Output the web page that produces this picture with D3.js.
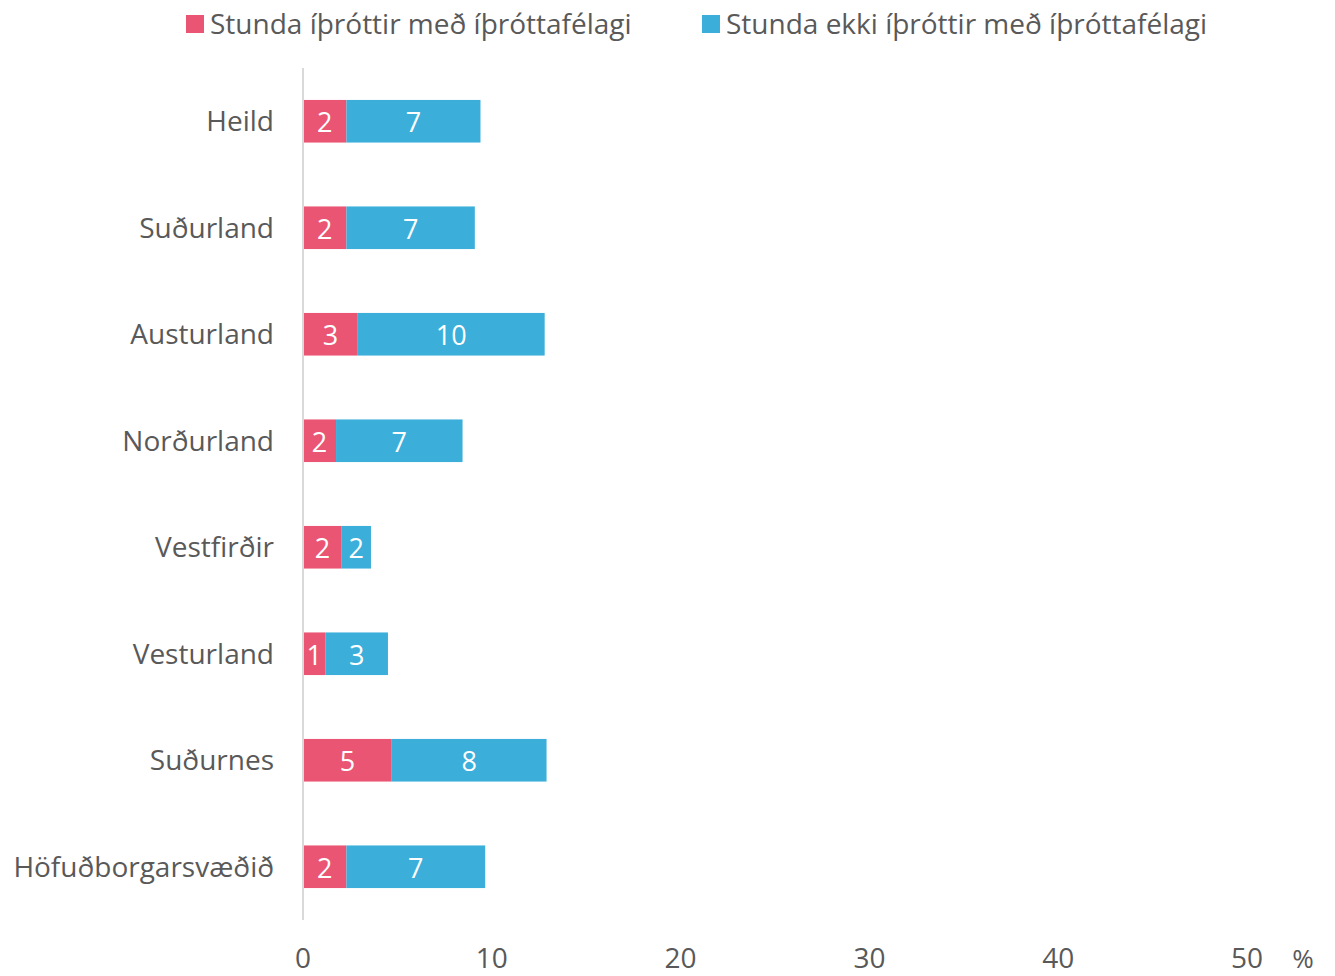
<!DOCTYPE html>
<html>
<head>
<meta charset="utf-8">
<script src="https://cdn.jsdelivr.net/npm/d3@7"></script>
<style>
body{margin:0;background:#fff;}
text{font-family:"Open Sans","Noto Sans",sans-serif;}
</style>
</head>
<body>
<script>
var regions=["Heild","Suðurland","Austurland","Norðurland","Vestfirðir","Vesturland","Suðurnes","Höfuðborgarsvæðið"]
var stunda=[2.3,2.3,2.9,1.75,2.05,1.2,4.7,2.3]
var stundaEkki=[7.1,6.8,9.9,6.7,1.55,3.3,8.2,7.35]
var ticks=[0,10,20,30,40,50]
var seriesNames=["Stunda íþróttir með íþróttafélagi","Stunda ekki íþróttir með íþróttafélagi"]
var colors=["#EA5573","#3BAEDA"]
var screen={width:1335,height:976};

var svg=d3.select("body")
          .append("svg")
          .attr("width",screen.width)
          .attr("height",screen.height)

var x=d3.scaleLinear().domain([0,50]).range([303,1247])
var y=d3.scaleBand().domain(regions).range([68,920]).paddingInner(0.6).paddingOuter(0.3)

var rows=regions.map(function(d,i){
  return {name:d,a:stunda[i],b:stundaEkki[i]};
})

// bars
var g=svg.selectAll("g.row")
         .data(rows)
         .enter()
         .append("g")
         .attr("class","row")
g.append("rect")
 .attr("x",function(d){return x(0)})
 .attr("y",function(d){return y(d.name)})
 .attr("width",function(d){return x(d.a)-x(0)})
 .attr("height",y.bandwidth())
 .attr("fill",colors[0])
g.append("rect")
 .attr("x",function(d){return x(d.a)})
 .attr("y",function(d){return y(d.name)})
 .attr("width",function(d){return x(d.a+d.b)-x(d.a)})
 .attr("height",y.bandwidth())
 .attr("fill",colors[1])
g.append("text")
 .attr("x",function(d){return (x(0)+x(d.a))/2})
 .attr("y",function(d){return y(d.name)+y.bandwidth()/2})
 .attr("dy","0.4em")
 .attr("text-anchor","middle")
 .attr("fill","white")
 .style("font-size","27px")
 .text(function(d){return Math.round(d.a)})
g.append("text")
 .attr("x",function(d){return (x(d.a)+x(d.a+d.b))/2})
 .attr("y",function(d){return y(d.name)+y.bandwidth()/2})
 .attr("dy","0.4em")
 .attr("text-anchor","middle")
 .attr("fill","white")
 .style("font-size","27px")
 .text(function(d){return Math.round(d.b)})
g.append("text")
 .attr("x",274)
 .attr("y",function(d){return y(d.name)+y.bandwidth()/2})
 .attr("dy","0.36em")
 .attr("text-anchor","end")
 .attr("fill","#595959")
 .style("font-size","28px")
 .text(function(d){return d.name})

// axis line
svg.append("line")
   .attr("x1",x(0)).attr("x2",x(0))
   .attr("y1",68).attr("y2",920)
   .attr("stroke","#d9d9d9")
   .attr("stroke-width",2)

// ticks
svg.selectAll("text.tick")
   .data(ticks)
   .enter()
   .append("text")
   .attr("class","tick")
   .attr("x",function(d){return x(d)})
   .attr("y",958)
   .attr("dy","0.36em")
   .attr("text-anchor","middle")
   .attr("fill","#595959")
   .style("font-size","28px")
   .text(function(d){return d})
svg.append("text")
   .attr("x",1303)
   .attr("y",959)
   .attr("dy","0.36em")
   .attr("text-anchor","middle")
   .attr("fill","#595959")
   .style("font-size","26px")
   .text("%")

// legend
var legX=[186,702]
var leg=svg.selectAll("g.leg")
           .data(seriesNames)
           .enter()
           .append("g")
           .attr("class","leg")
leg.append("rect")
   .attr("x",function(d,i){return legX[i]})
   .attr("y",15)
   .attr("width",18)
   .attr("height",18)
   .attr("fill",function(d,i){return colors[i]})
leg.append("text")
   .attr("x",function(d,i){return legX[i]+24})
   .attr("y",24)
   .attr("dy","0.36em")
   .attr("fill","#595959")
   .style("font-size","28px")
   .text(function(d){return d})
</script>
</body>
</html>
